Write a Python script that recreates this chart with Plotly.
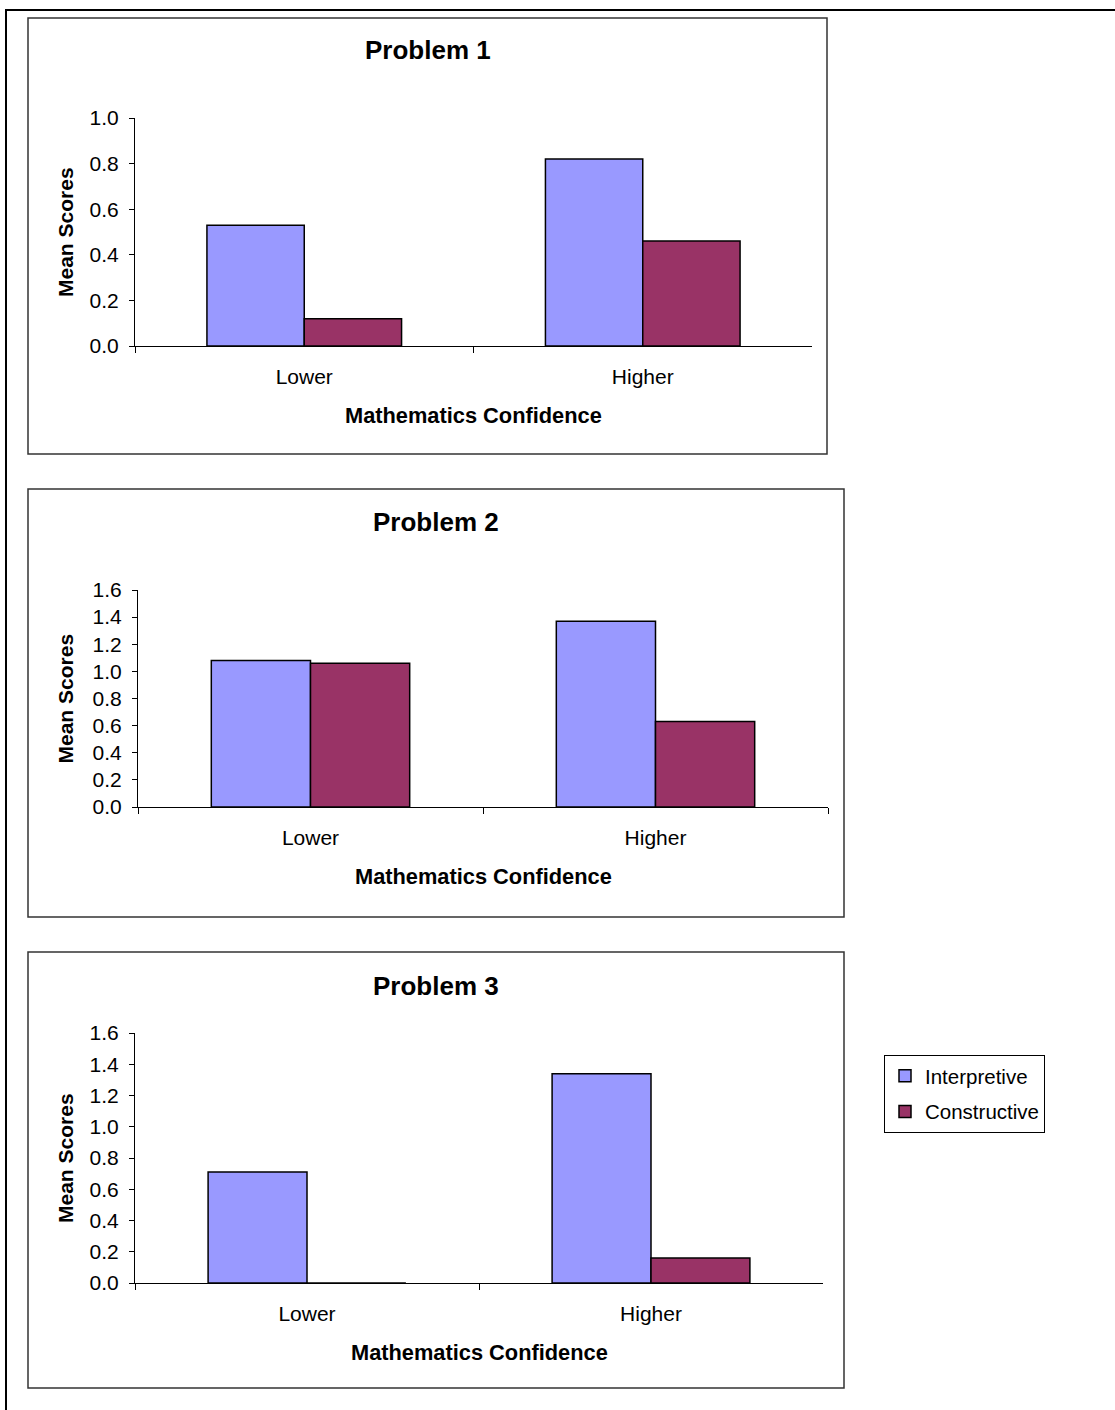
import plotly.graph_objects as go

# Mean scores by mathematics confidence group
categories = ["Lower", "Higher"]
series_names = ["Interpretive", "Constructive"]
problem_titles = ["Problem 1", "Problem 2", "Problem 3"]

p1_interpretive = [0.53, 0.82]
p1_constructive = [0.12, 0.46]
p2_interpretive = [1.08, 1.37]
p2_constructive = [1.06, 0.63]
p3_interpretive = [0.71, 1.34]
p3_constructive = [0.00, 0.16]

y_ranges = [[0, 1.0], [0, 1.6], [0, 1.6]]
x_title = "Mathematics Confidence"
y_title = "Mean Scores"

W, H = 1115, 1410
FONT = "Liberation Sans, Arial, sans-serif"
COLORS = ["#9999FF", "#993366"]


def px(x):
    return x / W


def py(y):
    return 1 - y / H


# panel geometry in pixels: plot area (left, right, top, bottom) and frame box
panels = [
    dict(plot=(135, 812, 118, 346), box=(28, 827, 18, 454), title_y=50),
    dict(plot=(138, 828, 590, 807), box=(28, 844, 489, 917), title_y=522),
    dict(plot=(135, 823, 1033, 1283), box=(28, 844, 952, 1388), title_y=986),
]

data = [
    (p1_interpretive, p1_constructive),
    (p2_interpretive, p2_constructive),
    (p3_interpretive, p3_constructive),
]

fig = go.Figure()
shapes = []
annotations = []

for i, (panel, (interp, constr)) in enumerate(zip(panels, data)):
    n = "" if i == 0 else str(i + 1)
    xa, ya = "x" + n, "y" + n
    for j, (name, vals) in enumerate(zip(series_names, (interp, constr))):
        fig.add_trace(go.Bar(
            x=categories, y=vals, name=name,
            xaxis=xa, yaxis=ya,
            marker=dict(color=COLORS[j], line=dict(color="black", width=1.5)),
            showlegend=(i == 2),
            legendgroup=name,
        ))
    l, r, t, b = panel["plot"]
    fig.update_layout(**{
        "xaxis" + n: dict(
            domain=[px(l), px(r)], anchor=ya,
            showline=True, linecolor="black", linewidth=1,
            ticks="outside", ticklen=6, tickcolor="black",
            tickson="boundaries", showgrid=False, zeroline=False,
            tickfont=dict(family=FONT, size=21, color="black"),
            ticklabelstandoff=12, fixedrange=True, automargin=False,
            layer="above traces",
        ),
        "yaxis" + n: dict(
            domain=[py(b), py(t)], anchor=xa, range=y_ranges[i],
            dtick=0.2, tickformat=".1f",
            showline=True, linecolor="black", linewidth=1,
            ticks="outside", ticklen=5, tickcolor="black",
            showgrid=False, zeroline=False,
            tickfont=dict(family=FONT, size=21, color="black"),
            ticklabelstandoff=6, fixedrange=True, automargin=False,
        ),
    })
    bl, br, bt, bb = panel["box"]
    shapes.append(dict(type="rect", xref="paper", yref="paper",
                       x0=px(bl), x1=px(br), y0=py(bb), y1=py(bt),
                       line=dict(color="#333333", width=1.5), layer="below"))
    annotations.append(dict(text="<b>%s</b>" % problem_titles[i],
                            x=px((bl + br) / 2), y=py(panel["title_y"]),
                            xref="paper", yref="paper", showarrow=False,
                            xanchor="center", yanchor="middle",
                            font=dict(family=FONT, size=26, color="black")))
    annotations.append(dict(text="<b>%s</b>" % x_title,
                            x=px((l + r) / 2), y=py(b + 69),
                            xref="paper", yref="paper", showarrow=False,
                            xanchor="center", yanchor="middle",
                            font=dict(family=FONT, size=21.8, color="black")))
    annotations.append(dict(text="<b>%s</b>" % y_title,
                            x=px(65), y=py((t + b) / 2),
                            xref="paper", yref="paper", showarrow=False,
                            xanchor="center", yanchor="middle", textangle=-90,
                            font=dict(family=FONT, size=21, color="black")))

# outer page frame lines
shapes.append(dict(type="line", xref="paper", yref="paper",
                   x0=px(5), x1=1, y0=py(10), y1=py(10),
                   line=dict(color="black", width=2)))
shapes.append(dict(type="line", xref="paper", yref="paper",
                   x0=px(6), x1=px(6), y0=py(10), y1=0,
                   line=dict(color="black", width=2)))

fig.update_layout(
    width=W, height=H,
    margin=dict(l=0, r=0, t=0, b=0, pad=0, autoexpand=False),
    paper_bgcolor="white", plot_bgcolor="white",
    barmode="group", bargap=0.425, bargroupgap=0,
    shapes=shapes, annotations=annotations,
    legend=dict(x=px(884), y=py(1055), xanchor="left", yanchor="top",
                bordercolor="black", borderwidth=1, bgcolor="white",
                font=dict(family=FONT, size=20.5, color="black"),
                tracegroupgap=6, itemwidth=30),
    font=dict(family=FONT),
)

fig.write_html("out.html")
